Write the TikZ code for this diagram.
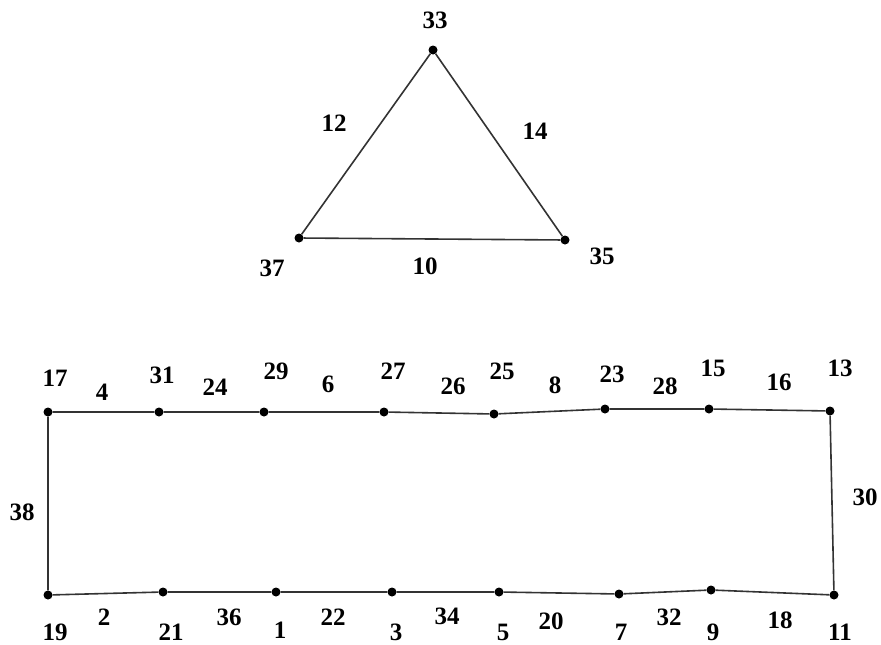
\documentclass[tikz,border=0pt]{standalone}
\usepackage{fontspec}
\setmainfont{Liberation Serif}
\begin{document}
\begin{tikzpicture}[x=1pt,y=-1pt,
  vtx/.style={circle,fill=black,inner sep=0pt,minimum size=9pt},
  lbl/.style={font=\fontsize{25}{27}\selectfont\bfseries,inner sep=0pt,anchor=base,text depth=0pt,yshift=-8pt},
  edge/.style={draw=black!80,line width=1.6pt}]
\useasboundingbox (0,0) rectangle (881,645);
% triangle
\node[vtx] (n33) at (433,50) {};
\node[vtx] (n37) at (299,238) {};
\node[vtx] (n35) at (565,240) {};
\draw[edge] (n33) -- (n37) -- (n35) -- (n33);
\node[lbl] (l33) at (435,20) {33};
\node[lbl] (l37) at (272,268) {37};
\node[lbl] (l35) at (602,256) {35};
\node[lbl] (e12) at (334,123) {12};
\node[lbl] (e14) at (535,131) {14};
\node[lbl] (e10) at (425,266) {10};
% top row
\foreach \n/\x/\y/\lx/\ly in {17/48/412/55/378, 31/159/412/162/375, 29/264/412/276/371, 27/384/412/393/371, 25/494/414/502/371, 23/605/409/612/374, 15/709/409/713/368, 13/830/411/840/368}{
  \node[vtx] (n\n) at (\x,\y) {};
  \node[lbl] (l\n) at (\lx,\ly) {\n};
}
% bottom row
\foreach \n/\x/\y/\lx/\ly in {19/48/595/55/632, 21/163/592/171/632, 1/276/592/280/630, 3/392/592/396/632, 5/499/592/503/632, 7/619/594/621/632, 9/711/590/713/632, 11/834/595/840/632}{
  \node[vtx] (n\n) at (\x,\y) {};
  \node[lbl] (l\n) at (\lx,\ly) {\n};
}
\draw[edge] (n17) -- (n31) -- (n29) -- (n27) -- (n25) -- (n23) -- (n15) -- (n13) -- (n11)
  -- (n9) -- (n7) -- (n5) -- (n3) -- (n1) -- (n21) -- (n19) -- (n17);
% edge labels
\foreach \t/\x/\y in {4/102/392, 24/215/387, 6/328/384, 26/453/386, 8/555/385, 28/665/386, 16/779/382,
  30/865/497, 38/22/512,
  2/104/617, 36/229/617, 22/333/617, 34/447/616, 20/551/621, 32/669/617, 18/780/620}{
  \node[lbl] (e\t) at (\x,\y) {\t};
}
\end{tikzpicture}
\end{document}
